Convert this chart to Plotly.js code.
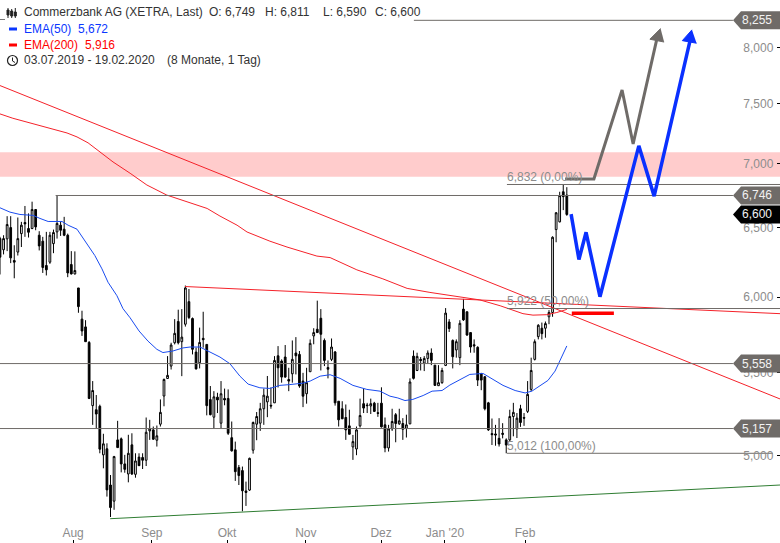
<!DOCTYPE html>
<html><head><meta charset="utf-8">
<script src="https://cdn.plot.ly/plotly-3.0.1.min.js"></script>
<style>html,body{margin:0;padding:0;background:#fff}#c{width:780px;height:543px}</style>
</head><body><div id="c"></div>
<script>
const open_=[6419,6337,6417,6501,6259,6320,6456,6539,6494,6494,6638,6444,6400,6223,6247,6382,6469,6519,6489,6444,6230,6163,6064,5850,5798,5695,
5295,5270,5291,5003,5038,4832,4743,5090,5096,4951,4894,5061,4892,4990,4988,4972,5143,5149,5088,5183,5354,5463,5542,
5693,5834,5700,5816,5969,5854,5632,5563,5722,5682,5332,5225,5347,5189,5339,5339,5103,5032,4930,4913,4799,4804,5030,5183,5189,5276,5318,5297,5312,5608,
5574,5600,5457,5493,5626,5617,5447,5368,5506,5738,5782,5856,5708,5533,5585,5633,5322,5276,5223,5173,5049,5037,5173,5307,5299,5293,5310,5252,5310,5179,5043,5155,5240,5185,
5187,5159,5185,5606,5514,5585,5561,5591,5626,5548,5418,5437,5546,5831,5708,5646,5596,5918,5900,5760,5680,5663,5493,5474,5312,5127,5125,5099,5129,5090,
5090,5229,5155,5276,5223,5260,5395,5585,5733,5789,5789,5866,5895,6486,6544,6775,6749];
const high=[6432,6444,6587,6587,6370,6577,6544,6665,6608,6698,6638,6474,6432,6469,6469,6486,6746,6544,6582,6456,6327,6325,6064,5907,5843,5704,
5447,5360,5301,5126,5070,4888,4997,5203,5104,5003,5120,5129,5012,5012,5012,5223,5209,5169,5175,5333,5463,5606,5693,
5850,5914,5918,6081,6057,5861,5661,5793,5900,5682,5416,5384,5374,5447,5400,5395,5199,5080,4945,4936,4851,4987,5199,5256,5312,5400,5479,5407,5606,5671,
5585,5678,5531,5708,5730,5639,5499,5531,5715,5789,5976,5918,5721,5578,5721,5639,5322,5322,5302,5270,5119,5169,5338,5400,5312,5338,5318,5312,5408,5223,5179,5276,5250,5276,
5219,5240,5464,5643,5628,5600,5606,5643,5656,5548,5548,5531,5925,5850,5715,5715,5843,5988,5900,5760,5715,5670,5499,5479,5318,5217,5179,5219,5189,5099,
5270,5312,5250,5300,5250,5447,5596,5715,5816,5827,5834,5911,6436,6618,6775,6832,6811];
const low=[6159,6303,6327,6240,6132,6295,6357,6432,6427,6489,6481,6332,6170,6152,6235,6312,6419,6439,6437,6140,6159,6159,5893,5738,5700,5335,
5179,5155,5012,4926,4768,4657,4696,5045,4903,4901,4847,4888,4873,4939,4922,4939,5090,5090,5051,5169,5291,5463,5520,
5682,5682,5478,5800,5850,5617,5520,5527,5661,5236,5236,5155,5250,5159,5297,5119,5022,4855,4832,4688,4717,4799,5010,5088,5143,5179,5225,5276,5312,5407,
5437,5468,5384,5437,5489,5405,5286,5307,5506,5683,5760,5514,5542,5464,5574,5295,5169,5215,5090,5123,4974,5001,5163,5250,5250,5244,5256,5227,5163,5018,5022,5143,5076,5179,
5090,5104,5183,5457,5510,5514,5510,5557,5548,5418,5416,5430,5542,5764,5527,5596,5548,5838,5738,5628,5628,5416,5390,5266,5143,5060,5056,5051,5099,5012,
5080,5111,5101,5167,5173,5250,5384,5578,5715,5715,5726,5816,5866,6392,6540,6633,6590];
const close_=[6283,6419,6524,6278,6247,6419,6519,6529,6466,6638,6506,6365,6209,6192,6444,6464,6532,6481,6444,6170,6163,6187,5935,5771,5700,5339,
5388,5244,5036,5067,4805,4708,4993,5045,4951,4920,5012,4894,4968,4941,4972,5135,5155,5094,5114,5254,5457,5483,5678,
5755,5693,5730,6064,5861,5650,5524,5695,5713,5295,5240,5349,5330,5368,5330,5129,5026,4907,4885,4800,4791,4983,5193,5229,5276,5359,5353,5293,5578,5531,
5472,5472,5447,5585,5608,5416,5353,5437,5689,5760,5760,5749,5578,5522,5665,5312,5209,5215,5149,5123,5080,5149,5235,5280,5295,5307,5260,5248,5167,5043,5155,5199,5187,5203,
5153,5179,5441,5464,5604,5578,5591,5626,5578,5420,5437,5514,5891,5787,5602,5700,5822,5845,5744,5665,5672,5453,5453,5276,5149,5121,5119,5066,5123,5060,
5229,5254,5219,5193,5219,5364,5514,5700,5809,5753,5820,5895,6429,6613,6745,6737,6600];

const ema50Idx=[0,2.8,5.6,9.3,11.2,13.5,17.4,19.1,21.6,23.8,26.6,28.6,30.3,32.8,34.5,36.5,39,41.5,44,45.7,48.5,51.3,53.3,56.1,58.3,61.7,64.5,67.3,69.6,72.9,75.7,78.5,81.3,85,87,89.8,92.6,95.4,99,102.9,106.6,109.4,111.6,113.6,115.8,118.7,121.2,124,126.2,129,131.8,135.5,138.3,141.1,144.5,147.3,149.2,153.7,155.7,159];
const ema50=[6651,6618,6600,6593,6570,6547,6547,6519,6489,6407,6295,6199,6104,6010,5921,5859,5771,5704,5650,5629,5639,5659,5665,5665,5639,5600,5557,5478,5428,5405,5401,5420,5425,5434,5447,5478,5487,5464,5420,5395,5384,5353,5342,5326,5333,5357,5384,5388,5422,5458,5489,5495,5458,5420,5388,5373,5384,5451,5510,5672];
const ema200Idx=[0,3.6,18.8,21.6,24.7,28.1,31.7,36.5,41.2,46.8,52.7,58.1,61.7,66.5,69.3,75.7,80.5,88.9,92.6,96.2,100.1,107.4,114.2,120.6,129.9,134.6,140.3,146.7,149.5,153.4,156.2,159];
const ema200=[7411,7374,7250,7217,7168,7093,7012,6921,6828,6749,6697,6646,6588,6519,6468,6400,6357,6291,6280,6237,6192,6128,6061,6033,5995,5981,5941,5887,5877,5880,5895,5916];

const xEnd=218.8;
const downTrendX=[0,xEnd], downTrendY=[7657,5336];
const flatTrendX=[51.9,xEnd], flatTrendY=[6074,5887];
const upTrendX=[30.9,xEnd], upTrendY=[4648,4832];

const levelVals=[8255,6746,5558,5157,6832,5922,5012];
const levelFrom=[116.1,15.6,0,0,142.2,142.2,142.2];
const levelTo=[205.6,205.6,205.6,205.6,xEnd,xEnd,216.8];

const grayPathX=[158.5,166.6,174.5,177.6,184.2], grayPathY=[6876,6876,7618,7159,8071];
const grayHeadX=[185.3,182.3,186.3], grayHeadY=[8177,8077,8051];
const bluePathX=[160.2,162.4,164.4,168.3,179.2,183.5,193.5], bluePathY=[6603,6266,6466,6003,7143,6741,8054];
const blueHeadX=[194.1,191.4,195.4], blueHeadY=[8165,8064,8040];
const redMarkX=[160.4,172.2], redMarkY=[5889,5889];

const bandLow=6894, bandHigh=7090;
const yTickVals=[5000,5500,6000,6500,7000,7500,8000];
const yTickText=['5,000','5,500','6,000','6,500','7,000','7,500','8,000'];
const xTickVals=[20.5,42.6,63.7,85.8,106.9,124.8,147.3];
const xTickText=['Aug','Sep','Okt','Nov','Dez',"Jan '20",'Feb'];

const tagVals=[8255,6746,5558,5157,6600];
const tagText=['8,255','6,746','5,558','5,157','6,600'];
const tagFill=['#6f6b68','#6f6b68','#6f6b68','#6f6b68','#000000'];
const fibVals=[6832,5922,5012];
const fibText=['6,832 (0,00%)','5,922 (50,00%)','5,012 (100,00%)'];

const R0=3.65511,R1=3.92689,W=780,H=543;
const FONT='"Liberation Sans", Arial, sans-serif';
const px=x=>x/W, py=y=>1-y/H, vf=v=>(Math.log10(v)-R0)/(R1-R0);
const line=(x,y,color,width)=>({type:'scatter',mode:'lines',x,y,line:{color,width},hoverinfo:'skip'});

const traces=[
 {type:'candlestick',x:open_.map((_,i)=>i),open:open_,high,low,close:close_,whiskerwidth:0,
  increasing:{line:{color:'#000',width:1},fillcolor:'#fff'},
  decreasing:{line:{color:'#000',width:1},fillcolor:'#000'},hoverinfo:'skip'},
 line(ema50Idx,ema50,'#1a4cf0',1),
 line(ema200Idx,ema200,'#f5222a',1),
 line(downTrendX,downTrendY,'#f5222a',1),
 line(flatTrendX,flatTrendY,'#f5222a',1),
 line(upTrendX,upTrendY,'#2f7d32',1)
];
levelVals.forEach((v,k)=>traces.push(line([levelFrom[k],levelTo[k]],[v,v],'#6f6b68',1)));
traces.push(line(grayPathX,grayPathY,'#6f6b68',3));
traces.push({type:'scatter',mode:'lines',x:grayHeadX,y:grayHeadY,fill:'toself',fillcolor:'#6f6b68',line:{color:'#6f6b68',width:1},hoverinfo:'skip'});
traces.push(line(bluePathX,bluePathY,'#0a30ff',3.5));
traces.push({type:'scatter',mode:'lines',x:blueHeadX,y:blueHeadY,fill:'toself',fillcolor:'#0a30ff',line:{color:'#0a30ff',width:1},hoverinfo:'skip'});
traces.push(line(redMarkX,redMarkY,'#ff0000',3.5));

const shapes=[{type:'rect',xref:'paper',yref:'y',x0:0,x1:1,y0:bandLow,y1:bandHigh,fillcolor:'#ffcccc',line:{width:0},layer:'below'}];
tagVals.forEach((v,k)=>{
 const f=vf(v),h=9/H;
 shapes.push({type:'path',xref:'paper',yref:'paper',fillcolor:tagFill[k],line:{width:0},layer:'above',
  path:`M ${px(733)} ${f} L ${px(741)} ${f+h} L 1 ${f+h} L 1 ${f-h} L ${px(741)} ${f-h} Z`});
});
const seg=(x0,y0,x1,y1,c,w)=>({type:'line',xref:'paper',yref:'paper',x0:px(x0),y0:py(y0),x1:px(x1),y1:py(y1),line:{color:c,width:w},layer:'above'});
shapes.push(seg(9,29,17,29,'#0a37ff',3));
shapes.push(seg(9,45,17,45,'#ff0000',3));
shapes.push(seg(0,19.5,5,19.5,'#777',1));
[[8,8,18,10,15],[11.7,9,18,11,16],[15.3,8,18,12,16]].forEach(c=>{
 shapes.push(seg(c[0],c[1],c[0],c[2],'#222',1));
 shapes.push({type:'rect',xref:'paper',yref:'paper',x0:px(c[0]-1),x1:px(c[0]+1),y0:py(c[3]),y1:py(c[4]),fillcolor:'#222',line:{color:'#222',width:1},layer:'above'});
});
shapes.push({type:'circle',xref:'paper',yref:'paper',x0:px(7.5),x1:px(17.5),y0:py(55.5),y1:py(65.5),line:{color:'#222',width:1.2},layer:'above'});
shapes.push(seg(12.5,57.5,12.5,61,'#222',1));
shapes.push(seg(12.5,61,15,62.5,'#222',1));

const ann=(x,y,text,color,size)=>({xref:'paper',yref:'paper',x:px(x),y:py(y),xanchor:'left',yanchor:'middle',text,showarrow:false,borderpad:0,font:{family:FONT,size:size||12,color}});
const annotations=[
 ann(23,12.5,'Commerzbank AG (XETRA, Last)','#333'),
 ann(208,12.5,'O: 6,749','#333'),ann(264,12.5,'H: 6,811','#333'),ann(322,12.5,'L: 6,590','#333'),ann(374,12.5,'C: 6,600','#333'),
 ann(23,29,'EMA(50)','#0a37ff'),ann(77,29,'5,672','#0a37ff'),
 ann(23,45,'EMA(200)','#ff0000'),ann(84,45,'5,916','#ff0000'),
 ann(23,60.5,'03.07.2019 - 19.02.2020','#333'),ann(166,60.5,'(8 Monate, 1 Tag)','#333')
];
const fibY=[177,301,446];
fibVals.forEach((v,k)=>annotations.push(ann(505.5,fibY[k],fibText[k],'#8c8c8c')));
tagVals.forEach((v,k)=>annotations.push({xref:'paper',yref:'paper',x:px(773),y:vf(v),xanchor:'right',yanchor:'middle',text:tagText[k],showarrow:false,borderpad:0,font:{family:FONT,size:12,color:'#f2f2f2'}}));

Plotly.newPlot('c',traces,{
 width:W,height:H,margin:{l:0,r:0,t:0,b:0},paper_bgcolor:'#fff',plot_bgcolor:'#fff',showlegend:false,
 font:{family:FONT,size:12},hovermode:false,
 xaxis:{range:[0,xEnd],type:'linear',rangeslider:{visible:false},showgrid:false,zeroline:false,showline:false,
  tickmode:'array',tickvals:xTickVals,ticktext:xTickText,ticks:'inside',ticklen:3,tickcolor:'#000',tickwidth:1,
  ticklabelposition:'inside',tickfont:{family:FONT,size:12,color:'#8c8c8c'}},
 yaxis:{type:'log',range:[R0,R1],side:'right',showgrid:false,zeroline:false,showline:false,
  tickmode:'array',tickvals:yTickVals,ticktext:yTickText,ticks:'inside',ticklen:3,tickcolor:'#000',tickwidth:1,
  ticklabelposition:'inside',ticklabelstandoff:3,tickfont:{family:FONT,size:12,color:'#8c8c8c'}},
 shapes,annotations
},{displayModeBar:false,staticPlot:true});
</script></body></html>
